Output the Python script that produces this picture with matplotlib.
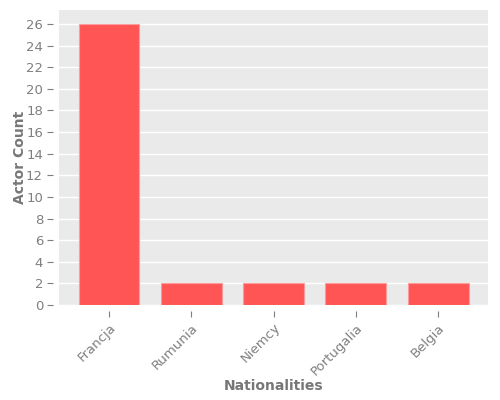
import matplotlib
matplotlib.use("Agg")
import matplotlib.pyplot as plt

categories = ["Francja", "Rumunia", "Niemcy", "Portugalia", "Belgia"]
counts = [26, 2, 2, 2, 2]

fig = plt.figure(figsize=(5, 4), dpi=100)
ax = fig.add_axes([0.118, 0.2375, 0.858, 0.7375])
ax.set_facecolor("#EAEAEA")
ax.bar(range(len(categories)), counts, width=0.74, color="#FF5555",
       edgecolor="#FF9A9A", linewidth=0.8, zorder=3)
ax.set_xticks(range(len(categories)))
ax.set_xticklabels(categories)
ax.set_yticks(range(0, 27, 2))
ax.grid(axis="y", color="white", linewidth=1, zorder=0)
ax.set_axisbelow(True)
for s in ax.spines.values():
    s.set_visible(False)
ax.spines["bottom"].set_position(("outward", 4))
ax.spines["left"].set_position(("outward", 4))
ax.tick_params(colors="#7F7F7F", labelcolor="#7F7F7F", labelsize=9.5, length=4, width=0.8)
for lbl in ax.get_xticklabels():
    lbl.set_rotation(45)
    lbl.set_ha("right")
    lbl.set_rotation_mode("anchor")
ax.set_xlabel("Nationalities", color="#777777", fontsize=10, fontweight="bold", va="center")
ax.set_ylabel("Actor Count", color="#777777", fontsize=10, fontweight="bold", va="center")
ax.xaxis.set_label_coords(0.5, -0.275)
ax.yaxis.set_label_coords(-0.091, 0.5)
fig.savefig("out.png", dpi=100)
